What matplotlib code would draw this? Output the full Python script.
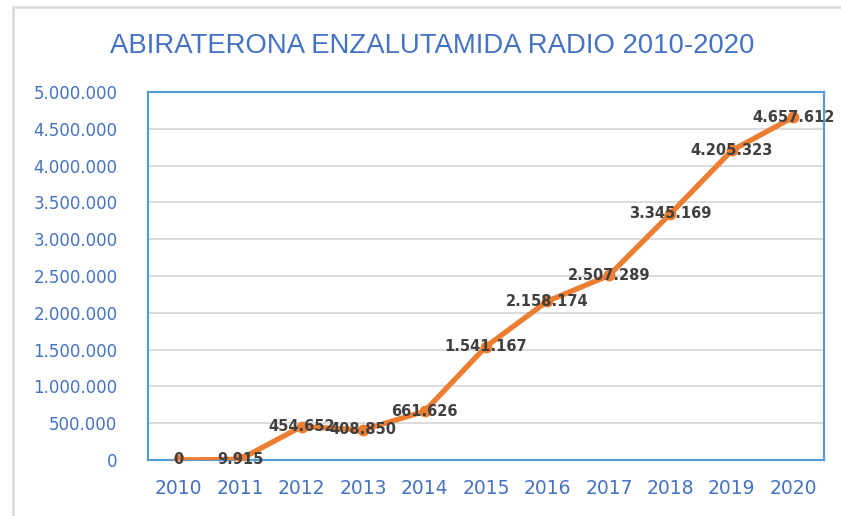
import matplotlib
matplotlib.use("Agg")
import matplotlib.pyplot as plt
from matplotlib.patches import Rectangle
from matplotlib.ticker import FuncFormatter

years = ["2010", "2011", "2012", "2013", "2014", "2015", "2016", "2017", "2018", "2019", "2020"]
values = [0, 9915, 454652, 408850, 661626, 1541167, 2158174, 2507289, 3345169, 4205323, 4657612]
title = "ABIRATERONA ENZALUTAMIDA RADIO 2010-2020"

W, H = 841, 516
fig = plt.figure(figsize=(W / 100, H / 100), dpi=100)

# outer chart border (left and top visible)
fig.patches.append(Rectangle((13 / W, -0.05), 1.2, 1 - 7 / H + 0.05, transform=fig.transFigure,
                             fill=False, edgecolor="#D9D9D9", linewidth=1.8, zorder=0))

ax = fig.add_axes([148 / W, (H - 460) / H, 676 / W, 368 / H])
x = list(range(len(years)))
ax.plot(x, values, color="#ED7D31", linewidth=3.8, marker="o", markersize=7.5,
        solid_capstyle="round", solid_joinstyle="round", zorder=3)

ax.set_xlim(-0.5, len(years) - 0.5)
ax.set_ylim(0, 5000000)
ax.set_yticks(range(0, 5000001, 500000))
ax.yaxis.set_major_formatter(FuncFormatter(lambda v, p: f"{int(v):,}".replace(",", ".")))
ax.set_xticks(x)
ax.set_xticklabels(years)
ax.grid(axis="y", color="#D9D9D9", linewidth=1.3, zorder=0)
ax.set_axisbelow(True)
for s in ax.spines.values():
    s.set_color("#5B9BD5")
    s.set_linewidth(1.6)
ax.tick_params(axis="y", length=0, pad=22, labelsize=12, labelcolor="#4472C4")
ax.tick_params(axis="x", length=0, pad=14, labelsize=13.5, labelcolor="#4472C4")

for xi, v in zip(x, values):
    ax.text(xi, v, f"{v:,}".replace(",", "."), ha="center", va="center",
            fontsize=10.5, fontweight="bold", color="#404040", zorder=4)

fig.text(432 / W, 1 - 53 / H, title, ha="center", va="baseline", fontsize=19.8,
         color="#4472C4", family=["Liberation Sans", "DejaVu Sans"])

fig.savefig("out.png", dpi=100)
